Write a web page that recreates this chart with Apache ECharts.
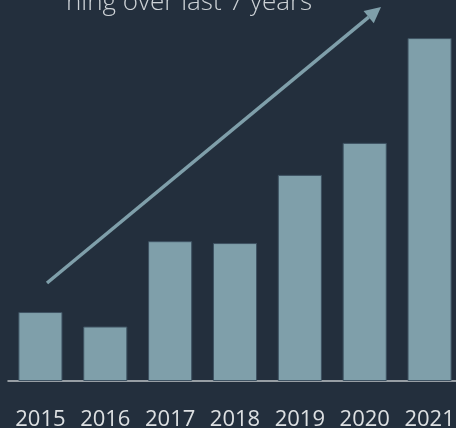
<!DOCTYPE html>
<html>
<head>
<meta charset="utf-8">
<script src="https://cdn.jsdelivr.net/npm/echarts@6/dist/echarts.min.js"></script>
<style>
html,body{margin:0;padding:0;background:#232f3d;}
#chart{width:456px;height:428px;}
</style>
</head>
<body>
<div id="chart"></div>
<script>
var years = ['2015','2016','2017','2018','2019','2020','2021'];
var values = [18.1, 14.3, 36.7, 36.2, 54.1, 62.5, 90.0];
var titleText = 'ning over last 7 years';

var chart = echarts.init(document.getElementById('chart'));
var barColor = '#7f9faa';
// arrow geometry
var x1 = 47, y1 = 283, x2 = 381, y2 = 7;
var ang = Math.atan2(y2 - y1, x2 - x1);
var hl = 16, hw = 8;
var bx = x2 - hl * Math.cos(ang), by = y2 - hl * Math.sin(ang);
var px = -Math.sin(ang), py = Math.cos(ang);
chart.setOption({
  backgroundColor: '#232f3d',
  animation: false,
  grid: {left: 8, width: 454, top: 0, bottom: 47, containLabel: false, outerBoundsMode: 'none'},
  xAxis: {
    type: 'category',
    data: years,
    axisTick: {show: false},
    axisLine: {lineStyle: {color: '#bfc3c6', width: 1.5}},
    axisLabel: {color: '#dde0e2', fontSize: 22, fontFamily: 'Open Sans', margin: 28, interval: 0, hideOverlap: false}
  },
  yAxis: {type: 'value', min: 0, max: 100, show: false, splitLine: {show: false}},
  series: [{
    type: 'bar',
    data: values,
    barWidth: '68%',
    itemStyle: {color: barColor, borderColor: '#3e5262', borderWidth: 1}
  }],
  graphic: [
    {type: 'text', left: 66, top: -10, style: {text: titleText, fill: '#cdd2d6', fontSize: 26, fontFamily: 'Open Sans', fontWeight: 300}},
    {type: 'line', shape: {x1: x1, y1: y1, x2: bx, y2: by}, style: {stroke: barColor, lineWidth: 3.5}},
    {type: 'polygon', shape: {points: [[x2, y2], [bx + px * hw, by + py * hw], [bx - px * hw, by - py * hw]]}, style: {fill: barColor}}
  ]
});
</script>
</body>
</html>
